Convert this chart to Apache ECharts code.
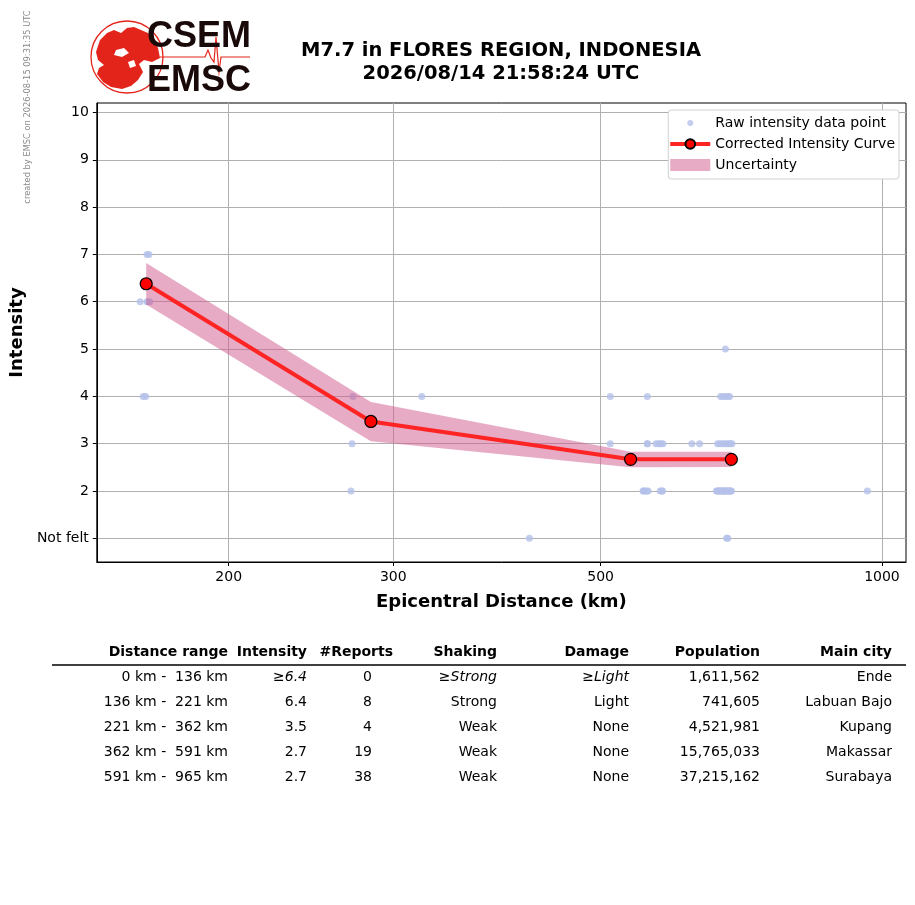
<!DOCTYPE html>
<html lang="en">
<head>
<meta charset="UTF-8">
<title>EMSC intensity</title>
<script src="https://cdn.jsdelivr.net/npm/echarts@6/dist/echarts.min.js"></script>
<style>
  html, body { margin: 0; padding: 0; background: #fff; }
  #main { width: 915px; height: 905px; }
</style>
</head>
<body>
<div id="main"></div>
<script>
// raw reports (distance km, intensity)
var rawDist = [163.5, 164.3, 160.8, 163.8, 164.6, 162.0, 163.0, 163.6,
  271.6, 271.0, 270.3, 321.8,
  419.5, 512, 561, 512, 561, 561, 573, 577, 580, 583, 555, 556, 558, 562, 579, 582, 582, 560,
  680, 672, 676, 680, 684, 687,
  626, 638, 667, 671, 675, 678, 682, 685, 688, 691,
  665, 667, 669, 671, 673, 675, 677, 679, 681, 683, 685, 687, 689, 690, 676, 680, 964.6, 668, 674, 686,
  682, 684];
var rawInt = [7, 7, 6, 6, 6, 4, 4, 6,
  4, 3, 2, 4,
  1, 4, 4, 3, 3, 3, 3, 3, 3, 3, 2, 2, 2, 2, 2, 2, 2, 2,
  5, 4, 4, 4, 4, 4,
  3, 3, 3, 3, 3, 3, 3, 3, 3, 3,
  2, 2, 2, 2, 2, 2, 2, 2, 2, 2, 2, 2, 2, 2, 2, 2, 2, 2, 2, 2,
  1, 1];

// corrected curve and its uncertainty
var curveDist = [163.2, 283.9, 538.3, 690];
var curveInt = [6.38, 3.47, 2.67, 2.67];
var bandUpper = [6.82, 3.88, 2.83, 2.83];
var bandLower = [5.94, 3.05, 2.50, 2.51];

var xTicks = [200, 300, 500, 1000];
var yTicks = [1, 2, 3, 4, 5, 6, 7, 8, 9, 10];

// summary table
var tableHead = ['Distance range', 'Intensity', '#Reports', 'Shaking', 'Damage', 'Population', 'Main city'];
var tRange = ['0 km -  136 km', '136 km -  221 km', '221 km -  362 km', '362 km -  591 km', '591 km -  965 km'];
var tIntensity = ['≥6.4', '6.4', '3.5', '2.7', '2.7'];
var tReports = ['0', '8', '4', '19', '38'];
var tShaking = ['≥Strong', 'Strong', 'Weak', 'Weak', 'Weak'];
var tDamage = ['≥Light', 'Light', 'None', 'None', 'None'];
var tPopulation = ['1,611,562', '741,605', '4,521,981', '15,765,033', '37,215,162'];
var tCity = ['Ende', 'Labuan Bajo', 'Kupang', 'Makassar', 'Surabaya'];

var FONT = 'DejaVu Sans';
var BAND = 'rgba(208,88,140,0.5)';
var chart = echarts.init(document.getElementById('main'));

var rawData = rawDist.map(function (d, i) { return [d, rawInt[i]]; });
var curveData = curveDist.map(function (d, i) { return [d, curveInt[i]]; });
var bandData = curveDist.map(function (d, i) { return [d, bandLower[i], bandUpper[i]]; });

// the whole band is one polygon, drawn once
function renderBand(params, api) {
  if (params.dataIndex !== 0) return null;
  var pts = [];
  for (var i = 0; i < curveDist.length; i++) pts.push(api.coord([curveDist[i], bandUpper[i]]));
  for (var j = curveDist.length - 1; j >= 0; j--) pts.push(api.coord([curveDist[j], bandLower[j]]));
  return { type: 'polygon', shape: { points: pts }, style: { fill: BAND } };
}

// table as text elements
var headRight = [228, 307, 393, 497, 629, 760, 892];
var cellRight = [228, 307, 372, 497, 629, 760, 892];
var cols = [tRange, tIntensity, tReports, tShaking, tDamage, tPopulation, tCity];
var tableEls = [];
tableHead.forEach(function (h, c) {
  tableEls.push({ type: 'text', x: headRight[c], y: 652, style: {
    text: h, font: 'bold 14px ' + FONT, fill: '#000', align: 'right', verticalAlign: 'middle' } });
});
tableEls.push({ type: 'line', shape: { x1: 52, y1: 665, x2: 906, y2: 665 }, style: { stroke: '#000', lineWidth: 1.5 } });
cols.forEach(function (col, c) {
  col.forEach(function (v, r) {
    var italic = r === 0 && v.charAt(0) === '≥';
    tableEls.push({ type: 'text', x: cellRight[c], y: 677 + r * 25, style: {
      text: v, font: (italic ? 'italic ' : '') + '14px ' + FONT, fill: '#000', align: 'right', verticalAlign: 'middle' } });
  });
});

// logo
var RED = '#e3241b';
var logoEls = [
  { type: 'circle', shape: { cx: 127, cy: 57, r: 36 }, style: { fill: 'none', stroke: RED, lineWidth: 1.3 } },
  { type: 'polygon', shape: { points: [[100, 40], [107, 33], [114, 30], [121, 33], [127, 28], [134, 27], [141, 30], [148, 33], [154, 40], [158, 48],
    [160, 58], [152, 62], [144, 60], [139, 64], [143, 72], [138, 80], [131, 86], [122, 89], [111, 87], [103, 82], [97, 74], [99, 68],
    [104, 65], [98, 60], [96, 52], [98, 46]] }, style: { fill: RED } },
  { type: 'polygon', shape: { points: [[116, 50], [124, 48], [129, 53], [122, 57], [114, 55]] }, style: { fill: '#fff' } },
  { type: 'polygon', shape: { points: [[128, 62], [134, 60], [136, 66], [130, 68]] }, style: { fill: '#fff' } },
  { type: 'polyline', shape: { points: [[160, 57], [205, 57], [208, 50], [211, 58], [214, 62], [216, 37], [219, 72], [221, 57], [250, 57]] },
    style: { stroke: RED, lineWidth: 1.2, fill: 'none' } },
  { type: 'text', x: 147, y: 37, style: { text: 'CSEM', font: 'bold 36px "Liberation Sans"', fill: '#1a0909', verticalAlign: 'middle' } },
  { type: 'text', x: 147, y: 81, style: { text: 'EMSC', font: 'bold 36px "Liberation Sans"', fill: '#1a0909', verticalAlign: 'middle' } }
];

chart.setOption({
  animation: false,
  backgroundColor: '#fff',
  textStyle: { fontFamily: FONT },
  title: {
    text: 'M7.7 in FLORES REGION, INDONESIA\n2026/08/14 21:58:24 UTC',
    left: 496, top: 34, textAlign: 'center',
    textStyle: { fontFamily: FONT, fontSize: 19.5, fontWeight: 'bold', color: '#000', lineHeight: 23 }
  },
  grid: { left: 96, right: 9, top: 103, bottom: 343, show: true, borderColor: '#000', borderWidth: 1, containLabel: false },
  legend: {
    right: 16, top: 110, orient: 'vertical',
    backgroundColor: '#fff', borderColor: '#d0d0d0', borderWidth: 1, borderRadius: 3,
    padding: [6, 4, 7, 0], itemGap: 7, itemWidth: 40, itemHeight: 12,
    textStyle: { fontFamily: FONT, fontSize: 14, color: '#000' },
    data: [
      { name: 'Raw intensity data point', icon: 'path://M0,0L0,0M40,12L40,12M17,6a3,3 0 1,0 6,0a3,3 0 1,0 -6,0Z' },
      { name: 'Corrected Intensity Curve', lineStyle: { width: 4, color: '#ff2424' } },
      { name: 'Uncertainty', icon: 'rect' }
    ]
  },
  xAxis: {
    type: 'log', logBase: 10, min: 144.5, max: 1061,
    name: 'Epicentral Distance (km)', nameLocation: 'middle', nameGap: 31,
    nameTextStyle: { fontFamily: FONT, fontSize: 18, fontWeight: 'bold', color: '#000' },
    axisLine: { show: true, lineStyle: { color: '#000' } },
    axisTick: { show: true, inside: false, length: 4, customValues: xTicks, lineStyle: { color: '#000' } },
    axisLabel: { customValues: xTicks, margin: 8, fontFamily: FONT, fontSize: 14, color: '#000',
      formatter: function (v) { return String(Math.round(v)); } },
    splitLine: { show: true, lineStyle: { color: '#b0b0b0', width: 1 } },
    minorTick: { show: false }, minorSplitLine: { show: false }
  },
  yAxis: {
    type: 'value', min: 0.5, max: 10.2,
    name: 'Intensity', nameLocation: 'middle', nameGap: 61, nameRotate: 90,
    nameTextStyle: { fontFamily: FONT, fontSize: 18, fontWeight: 'bold', color: '#000' },
    axisLine: { show: true, lineStyle: { color: '#000' } },
    axisTick: { show: true, inside: false, length: 4, customValues: yTicks, lineStyle: { color: '#000' } },
    axisLabel: { customValues: yTicks, margin: 8, fontFamily: FONT, fontSize: 14, color: '#000',
      formatter: function (v) { return v === 1 ? 'Not felt' : String(v); } },
    splitLine: { show: true, lineStyle: { color: '#b0b0b0', width: 1 } }
  },
  series: [
    {
      name: 'Raw intensity data point', type: 'scatter', data: rawData,
      symbol: 'circle', symbolSize: 7, itemStyle: { color: '#b4c0ea' }, z: 2
    },
    {
      name: 'Uncertainty', type: 'custom', data: bandData,
      encode: { x: 0, y: [1, 2] },
      renderItem: renderBand,
      itemStyle: { color: BAND }, z: 3, silent: true
    },
    {
      name: 'Corrected Intensity Curve', type: 'line', data: curveData,
      symbol: 'circle', symbolSize: 12,
      lineStyle: { color: '#ff2424', width: 4 },
      itemStyle: { color: '#ff0000', borderColor: '#000', borderWidth: 1.2 }, z: 5
    }
  ],
  graphic: [
    { type: 'text', x: 28, y: 107, rotation: Math.PI / 2, style: {
      text: 'created by EMSC on 2026-08-15 09:31:35 UTC', font: '8.3px ' + FONT, fill: '#8a8a8a',
      align: 'center', verticalAlign: 'middle' } }
  ].concat(logoEls, tableEls)
});
</script>
</body>
</html>
